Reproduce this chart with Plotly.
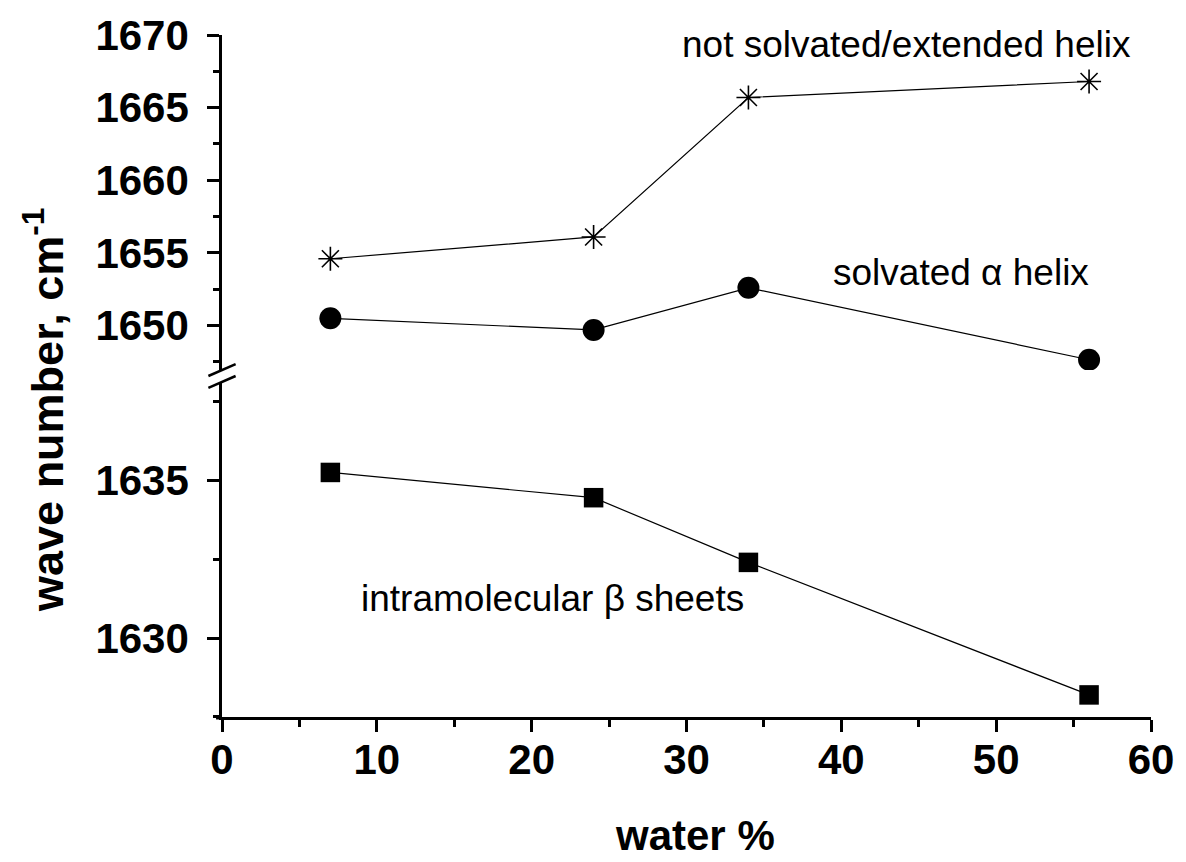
import plotly.graph_objects as go

# water content (%) of the samples
water = [7, 24, 34, 56]

# amide I band positions, cm^-1
not_solvated = [1654.6, 1656.1, 1665.7, 1666.8]   # not solvated / extended helix
solvated_alpha = [1650.5, 1649.7, 1652.6, 1647.65]  # solvated alpha helix
beta_sheets = [1635.25, 1634.45, 1632.4, 1628.2]    # intramolecular beta sheets

x_ticks = [0, 10, 20, 30, 40, 50, 60]
upper_ticks = [1650, 1655, 1660, 1665, 1670]
lower_ticks = [1630, 1635]

W, H = 1186, 862
L, R, T, B = 222, 1157, 31, 717          # plot-area edges in pixels
UPPER_BOTTOM, LOWER_TOP = 368, 380       # gap of the broken y axis


def fx(px):
    return (px - L) / (R - L)


def fy(py):
    return (B - py) / (B - T)


FONT = "Liberation Sans, Arial, sans-serif"
BLACK = "#000000"

fig = go.Figure()

fig.add_trace(go.Scatter(
    x=water, y=not_solvated, mode="lines+markers", yaxis="y",
    line=dict(color=BLACK, width=1.2),
    marker=dict(symbol="asterisk-open", size=20, color=BLACK,
                line=dict(color=BLACK, width=1.6)),
    showlegend=False,
))
fig.add_trace(go.Scatter(
    x=water, y=solvated_alpha, mode="lines+markers", yaxis="y",
    line=dict(color=BLACK, width=1.2),
    marker=dict(symbol="circle", size=22, color=BLACK, line=dict(width=0)),
    showlegend=False,
))
fig.add_trace(go.Scatter(
    x=water, y=beta_sheets, mode="lines+markers", yaxis="y2",
    line=dict(color=BLACK, width=1.2),
    marker=dict(symbol="square", size=19.5, color=BLACK, line=dict(width=0)),
    showlegend=False,
))

tickfont = dict(family=FONT, size=42, color=BLACK, weight="bold")
axis_common = dict(
    showline=True, linecolor=BLACK, linewidth=2.5,
    ticks="outside", ticklen=12, tickwidth=2.5, tickcolor=BLACK,
    showgrid=False, zeroline=False, tickfont=tickfont,
)

upper_range = [1670 - (UPPER_BOTTOM - T) / 14.615, 1670]
lower_range = [1627.5, 1627.5 + (B - LOWER_TOP) / 31.74]

fig.update_layout(
    width=W, height=H,
    margin=dict(l=L, r=W - R, t=T, b=H - B, pad=0),
    paper_bgcolor="white", plot_bgcolor="white",
    xaxis=dict(
        **axis_common, range=[0, 60], anchor="y2",
        tickmode="array", tickvals=x_ticks, ticktext=[str(v) for v in x_ticks],
        ticklabelstandoff=-8,
        minor=dict(ticks="outside", ticklen=7, tickwidth=2.5,
                   tickcolor=BLACK, dtick=5, tick0=0, showgrid=False),
    ),
    yaxis=dict(
        **axis_common, range=upper_range, domain=[fy(UPPER_BOTTOM), 1],
        anchor="x", tickmode="array", tickvals=upper_ticks,
        ticktext=[str(v) for v in upper_ticks], ticklabelstandoff=10,
        minor=dict(ticks="outside", ticklen=6, tickwidth=2.5,
                   tickcolor=BLACK, dtick=2.5, tick0=1647.5, showgrid=False),
    ),
    yaxis2=dict(
        **axis_common, range=lower_range, domain=[0, fy(LOWER_TOP)],
        anchor="x", tickmode="array", tickvals=lower_ticks,
        ticktext=[str(v) for v in lower_ticks], ticklabelstandoff=10,
        minor=dict(ticks="outside", ticklen=6, tickwidth=2.5,
                   tickcolor=BLACK, dtick=2.5, tick0=1627.5, showgrid=False),
    ),
)

# axis-break marks: two parallel slanted strokes across the y axis
gap_mid = (UPPER_BOTTOM + LOWER_TOP) / 2
for dy in (-6, 6):
    fig.add_shape(
        type="line", xref="paper", yref="paper",
        x0=fx(L - 13.7), y0=fy(gap_mid + dy + 6),
        x1=fx(L + 13.7), y1=fy(gap_mid + dy - 6),
        line=dict(color=BLACK, width=2.5),
    )

# short overhang of the x axis line past the y axis
fig.add_shape(
    type="line", xref="paper", yref="paper",
    x0=fx(L - 6), y0=fy(B + 1.25), x1=fx(L), y1=fy(B + 1.25),
    line=dict(color=BLACK, width=2.5),
)

label_font = dict(family=FONT, size=37, color=BLACK)
labels = [
    ("not solvated/extended helix", 910.5, 41),
    ("solvated α helix", 966, 270),
    ("intramolecular β sheets", 555, 598),
]
for text, px, py in labels:
    fig.add_annotation(
        text=text, xref="paper", yref="paper", x=fx(px), y=fy(py),
        xanchor="center", yanchor="middle", showarrow=False, font=label_font,
    )

title_font = dict(family=FONT, size=42, color=BLACK, weight="bold")
fig.add_annotation(
    text="water %", xref="paper", yref="paper", x=fx(698), y=fy(H),
    xanchor="center", yanchor="bottom", showarrow=False, font=title_font,
)
fig.add_annotation(
    text="wave number, cm<sup>-1</sup>", xref="paper", yref="paper",
    x=fx(43), y=fy(408), xanchor="center", yanchor="middle",
    textangle=-90, showarrow=False, font=dict(title_font, size=45),
)

fig.write_html("out.html")
